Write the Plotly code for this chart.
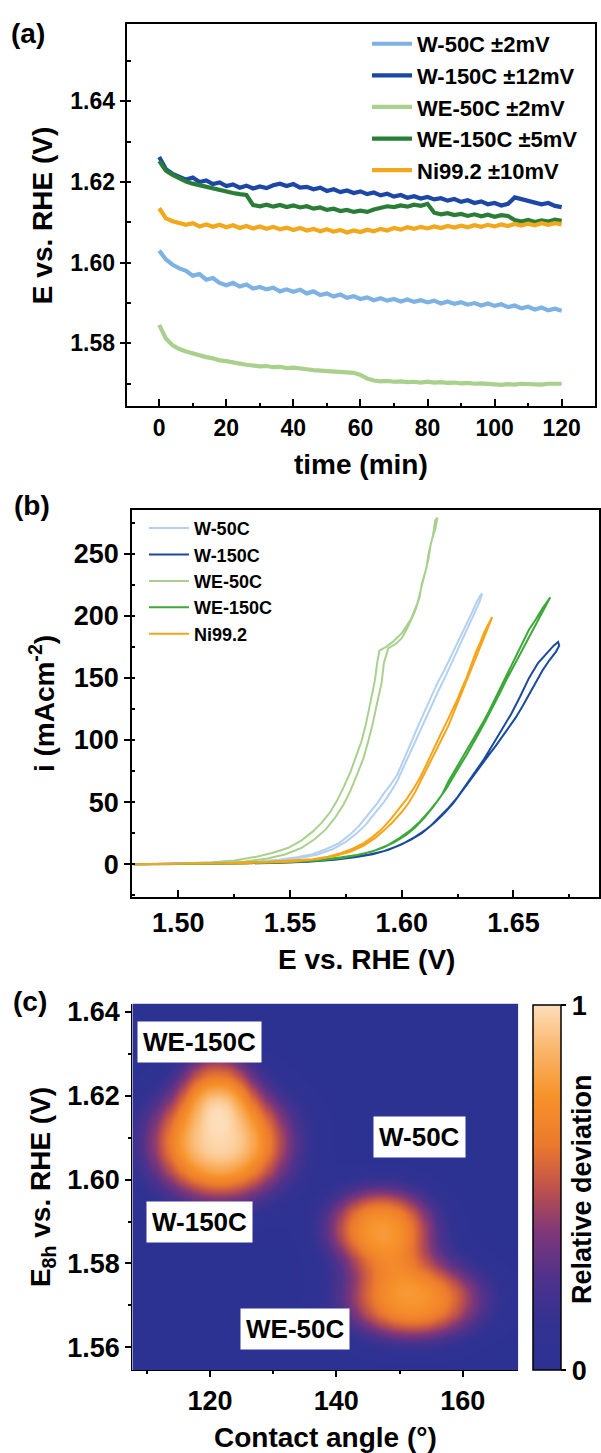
import numpy as np
import plotly.graph_objects as go

W, H = 601, 1453
FONT = "Liberation Sans"

# ---------------- (a) chronopotentiometry ----------------
names = ["W-50C", "W-150C", "WE-50C", "WE-150C", "Ni99.2"]
stability = ["±2mV", "±12mV", "±2mV", "±5mV", "±10mV"]
time_min = list(range(0, 121, 2))

e_w50 = [1.6030, 1.6008, 1.5995, 1.5986, 1.5980, 1.5968, 1.5972, 1.5958, 1.5962, 1.5950,
         1.5944, 1.5950, 1.5941, 1.5946, 1.5936, 1.5940, 1.5934, 1.5938, 1.5929, 1.5934,
         1.5928, 1.5933, 1.5924, 1.5929, 1.5920, 1.5924, 1.5916, 1.5921, 1.5913, 1.5917,
         1.5910, 1.5914, 1.5907, 1.5912, 1.5906, 1.5910, 1.5904, 1.5909, 1.5903, 1.5907,
         1.5902, 1.5906, 1.5899, 1.5904, 1.5898, 1.5902, 1.5896, 1.5900, 1.5894, 1.5899,
         1.5893, 1.5897, 1.5890, 1.5894, 1.5887, 1.5891, 1.5884, 1.5889, 1.5882, 1.5886,
         1.5881]
e_w150 = [1.6262, 1.6232, 1.6220, 1.6213, 1.6206, 1.6211, 1.6200, 1.6204, 1.6195, 1.6199,
          1.6190, 1.6194, 1.6186, 1.6191, 1.6184, 1.6189, 1.6185, 1.6192, 1.6196, 1.6190,
          1.6195, 1.6186, 1.6188, 1.6182, 1.6186, 1.6178, 1.6182, 1.6175, 1.6179, 1.6173,
          1.6177, 1.6170, 1.6174, 1.6167, 1.6171, 1.6164, 1.6168, 1.6161, 1.6165, 1.6159,
          1.6163, 1.6157, 1.6160, 1.6154, 1.6158, 1.6151, 1.6155, 1.6148, 1.6152, 1.6145,
          1.6148, 1.6142, 1.6146, 1.6162, 1.6158, 1.6153, 1.6149, 1.6145, 1.6148, 1.6141,
          1.6138]
e_we50 = [1.5846, 1.5812, 1.5795, 1.5786, 1.5780, 1.5775, 1.5771, 1.5766, 1.5763, 1.5758,
          1.5756, 1.5752, 1.5750, 1.5747, 1.5745, 1.5743, 1.5744, 1.5741, 1.5742, 1.5739,
          1.5740, 1.5737, 1.5736, 1.5734, 1.5733, 1.5731, 1.5730, 1.5729, 1.5728, 1.5727,
          1.5722, 1.5713, 1.5708, 1.5706, 1.5707, 1.5705, 1.5706, 1.5704, 1.5705, 1.5703,
          1.5705, 1.5703, 1.5704, 1.5702, 1.5703, 1.5701, 1.5702, 1.5700, 1.5701, 1.5699,
          1.5698, 1.5697, 1.5699, 1.5698, 1.5700, 1.5699, 1.5700, 1.5698, 1.5700, 1.5699,
          1.5700]
e_we150 = [1.6252, 1.6228, 1.6218, 1.6208, 1.6201, 1.6196, 1.6192, 1.6187, 1.6183, 1.6180,
           1.6176, 1.6173, 1.6170, 1.6168, 1.6143, 1.6140, 1.6144, 1.6139, 1.6143, 1.6138,
           1.6142, 1.6137, 1.6140, 1.6134, 1.6137, 1.6131, 1.6134, 1.6128, 1.6131, 1.6126,
           1.6129, 1.6126, 1.6132, 1.6136, 1.6140, 1.6138, 1.6142, 1.6139, 1.6144, 1.6141,
           1.6146, 1.6124, 1.6120, 1.6123, 1.6118, 1.6121, 1.6116, 1.6120, 1.6115, 1.6119,
           1.6114, 1.6118, 1.6116, 1.6106, 1.6102, 1.6106, 1.6101, 1.6105, 1.6102, 1.6107,
           1.6104]
e_ni = [1.6135, 1.6110, 1.6103, 1.6098, 1.6094, 1.6098, 1.6090, 1.6095, 1.6089, 1.6094,
        1.6088, 1.6093, 1.6086, 1.6091, 1.6085, 1.6090, 1.6084, 1.6089, 1.6083, 1.6087,
        1.6081, 1.6086, 1.6080, 1.6084, 1.6078, 1.6083, 1.6077, 1.6081, 1.6075, 1.6080,
        1.6076, 1.6082, 1.6078, 1.6084, 1.6080, 1.6086, 1.6082, 1.6088, 1.6084, 1.6089,
        1.6085, 1.6090, 1.6086, 1.6091, 1.6087, 1.6092, 1.6088, 1.6093, 1.6089, 1.6094,
        1.6090, 1.6095, 1.6091, 1.6096, 1.6092, 1.6097, 1.6093, 1.6098, 1.6094, 1.6098,
        1.6095]
potentials_a = [e_w50, e_w150, e_we50, e_we150, e_ni]
colors_a = ["#7DB2E2", "#1C47A6", "#A9D08C", "#2A7D36", "#F2A81C"]

# ---------------- (b) polarisation loops (forward + reverse scan) ----------------
we50_E = [1.480, 1.500, 1.515, 1.525, 1.535, 1.542, 1.549, 1.555, 1.560, 1.564, 1.568, 1.571,
          1.574, 1.577, 1.580, 1.582, 1.584, 1.586, 1.588, 1.589, 1.590, 1.593, 1.596, 1.600,
          1.604, 1.607, 1.609, 1.610, 1.612, 1.613, 1.615, 1.616,
          1.615, 1.614, 1.612, 1.611, 1.609, 1.608, 1.606, 1.603, 1.600, 1.597, 1.594, 1.592,
          1.591, 1.589, 1.587, 1.585, 1.583, 1.580, 1.577, 1.574, 1.570, 1.566, 1.561, 1.555,
          1.548, 1.540, 1.530, 1.515, 1.500, 1.480]
we50_i = [0, 0.5, 1.5, 3, 6, 9, 13, 19, 26, 33, 42, 51, 62, 74, 89, 99, 113, 130, 148, 162,
          172, 175, 179, 186, 197, 210, 224, 230, 246, 258, 270, 279,
          277, 265, 250, 238, 226, 215, 204, 192, 182, 177, 174, 162, 146, 130, 113, 99, 86,
          72, 59, 48, 37, 28, 20, 13, 8, 4.5, 2.2, 0.8, 0.2, 0]

w50_E = [1.480, 1.500, 1.520, 1.535, 1.545, 1.553, 1.560, 1.566, 1.572, 1.577, 1.581, 1.585,
         1.589, 1.592, 1.595, 1.598, 1.601, 1.604, 1.607, 1.610, 1.613, 1.616, 1.619, 1.622,
         1.625, 1.628, 1.631, 1.633, 1.635, 1.636,
         1.635, 1.633, 1.631, 1.628, 1.625, 1.622, 1.619, 1.616, 1.613, 1.610, 1.607, 1.604,
         1.601, 1.598, 1.595, 1.592, 1.588, 1.584, 1.580, 1.575, 1.569, 1.562, 1.553, 1.542,
         1.525, 1.505, 1.480]
w50_i = [0, 0.4, 1.2, 2.2, 3.5, 5.5, 8, 12, 17, 24, 31, 40, 49, 57, 64, 72, 84, 97, 110, 122,
         134, 146, 156, 167, 178, 189, 201, 209, 216, 218,
         212, 204, 196, 184, 172, 160, 149, 138, 126, 114, 102, 90, 78, 67, 58, 50, 41, 32,
         25, 18, 12, 7.5, 4.5, 2.3, 1, 0.3, 0]

ni_E = [1.480, 1.500, 1.520, 1.540, 1.552, 1.560, 1.567, 1.573, 1.578, 1.583, 1.587, 1.591,
        1.595, 1.599, 1.602, 1.605, 1.608, 1.611, 1.614, 1.617, 1.620, 1.623, 1.625, 1.627,
        1.629, 1.631, 1.633, 1.635, 1.637, 1.639, 1.6405,
        1.639, 1.637, 1.635, 1.633, 1.631, 1.629, 1.627, 1.625, 1.623, 1.621, 1.618, 1.615,
        1.612, 1.609, 1.606, 1.603, 1.600, 1.596, 1.592, 1.588, 1.583, 1.577, 1.570, 1.562,
        1.550, 1.530, 1.505, 1.480]
ni_i = [0, 0.3, 0.8, 2, 3, 4, 6, 9, 12.5, 17, 22, 28, 36, 45, 52, 60, 69, 80, 92, 103, 114,
        125, 133, 142, 150, 160, 170, 178, 187, 194, 199,
        192, 183, 174, 166, 157, 147, 139, 130, 121, 112, 101, 90, 79, 68, 58, 49, 42, 34,
        27, 21, 15, 10, 6.5, 4, 2, 0.8, 0.2, 0]

we150_E = [1.480, 1.500, 1.520, 1.540, 1.555, 1.565, 1.573, 1.580, 1.586, 1.592, 1.597, 1.602,
           1.606, 1.610, 1.614, 1.618, 1.621, 1.624, 1.627, 1.630, 1.633, 1.636, 1.639, 1.642,
           1.645, 1.648, 1.651, 1.654, 1.657, 1.660, 1.663, 1.6665,
           1.665, 1.662, 1.659, 1.656, 1.653, 1.650, 1.647, 1.644, 1.641, 1.638, 1.635, 1.632,
           1.629, 1.626, 1.623, 1.620, 1.616, 1.612, 1.608, 1.604, 1.599, 1.594, 1.588, 1.581,
           1.573, 1.563, 1.550, 1.530, 1.505, 1.480]
we150_i = [0, 0.2, 0.6, 1.5, 2.6, 3.8, 5.5, 7.3, 9.8, 13.5, 18, 23.5, 29.5, 37, 46, 56, 67, 76,
           85, 94, 103, 113, 123, 134, 146, 157, 168, 179, 189, 197, 206, 215,
           210, 200, 190, 180, 170, 160, 149, 138, 127, 117, 107, 97, 88, 79, 70, 61, 51, 42,
           34, 27.5, 21, 15.5, 11, 7.5, 5, 3, 1.6, 0.6, 0.15, 0]

w150_E = [1.480, 1.500, 1.520, 1.540, 1.555, 1.567, 1.577, 1.585, 1.592, 1.598, 1.604, 1.609,
          1.613, 1.617, 1.621, 1.625, 1.629, 1.633, 1.637, 1.641, 1.645, 1.649, 1.653, 1.657,
          1.661, 1.665, 1.668, 1.670,
          1.6705, 1.669, 1.666, 1.663, 1.660, 1.657, 1.654, 1.651, 1.648, 1.645, 1.642, 1.639,
          1.635, 1.631, 1.627, 1.623, 1.619, 1.615, 1.611, 1.606, 1.600, 1.594, 1.587, 1.579,
          1.570, 1.558, 1.542, 1.520, 1.500, 1.480]
w150_i = [0, 0.2, 0.5, 1.2, 2.3, 3.8, 5.7, 7.6, 10.5, 14.5, 19.5, 25, 31, 38, 45.5, 54, 64,
          74, 85, 97, 109, 121, 135, 150, 162, 170, 176, 179,
          176, 171, 164, 156, 146, 137, 127, 118, 110, 102, 95, 88, 78, 68, 58, 49, 41, 34,
          28, 22, 16, 11.5, 8, 5.5, 3.5, 2, 1, 0.4, 0.1, 0]

loops_E = [w50_E, w150_E, we50_E, we150_E, ni_E]
loops_i = [w50_i, w150_i, we50_i, we150_i, ni_i]
colors_b = ["#B3D0EE", "#1A4A9C", "#A9D08C", "#3DA93A", "#F4A51B"]

# ---------------- (c) deviation map vs contact angle ----------------
map_samples = ["W-150C", "WE-150C", "W-50C", "WE-50C"]
contact_angle = [121.5, 121.0, 147.0, 152.0]
contact_angle_sd = [9.5, 5.0, 7.5, 9.5]
e8h = [1.6090, 1.6235, 1.5885, 1.5715]
e8h_sd = [0.0120, 0.0075, 0.0085, 0.0085]
peak_deviation = [0.97, 0.38, 0.76, 0.76]

label_names = ["WE-150C", "W-50C", "W-150C", "WE-50C"]
label_angle = [118.4, 153.2, 118.4, 133.4]
label_e = [1.6329, 1.6102, 1.5898, 1.5643]

deviation_scale = [
    [0.00, "rgb(44,50,146)"],
    [0.12, "rgb(50,50,146)"],
    [0.25, "rgb(78,50,140)"],
    [0.38, "rgb(128,55,120)"],
    [0.50, "rgb(192,82,74)"],
    [0.62, "rgb(236,122,45)"],
    [0.75, "rgb(247,146,42)"],
    [0.88, "rgb(250,182,108)"],
    [1.00, "rgb(253,222,186)"],
]


def px(x):
    return x / W


def py(y):
    return 1 - y / H


fig = go.Figure()

for k, name in enumerate(names):
    fig.add_trace(go.Scatter(
        x=time_min, y=potentials_a[k], mode="lines",
        name=f"{name} {stability[k]}",
        line=dict(color=colors_a[k], width=4.2),
        xaxis="x", yaxis="y", legend="legend"))

for k, name in enumerate(names):
    fig.add_trace(go.Scatter(
        x=loops_E[k], y=loops_i[k], mode="lines", name=name,
        line=dict(color=colors_b[k], width=2),
        xaxis="x2", yaxis="y2", legend="legend2"))

# relative-deviation surface: each sample spread by its own uncertainty
ang_lo, ang_hi = 107.7, 168.8
e_lo, e_hi = 1.5545, 1.642
ang_axis = np.linspace(ang_lo, ang_hi, 360)
e_axis = np.linspace(e_lo, e_hi, 360)
AA, EE = np.meshgrid(ang_axis, e_axis)
surface = np.zeros_like(AA)
for a0, sa, e0, se, pk in zip(contact_angle, contact_angle_sd, e8h, e8h_sd, peak_deviation):
    d2 = ((AA - a0) / sa) ** 2 + ((EE - e0) / se) ** 2
    surface += pk * np.exp(-np.log(2) * d2 ** 1.25)
surface = np.clip(surface, 0, 1)

fig.add_trace(go.Heatmap(
    x=ang_axis, y=e_axis, z=surface, zmin=0, zmax=1,
    colorscale=deviation_scale, zsmooth="best", showscale=True,
    xaxis="x3", yaxis="y3", hoverinfo="skip",
    colorbar=dict(
        x=px(533), xanchor="left", y=py(1370), yanchor="bottom",
        len=(1370 - 1003) / H, lenmode="fraction",
        thickness=28, thicknessmode="pixels", xpad=0, ypad=0,
        outlinewidth=1.5, outlinecolor="black",
        tickvals=[0, 1], ticktext=["0", "1"], ticks="outside", ticklen=5,
        tickwidth=1.5, tickcolor="black",
        tickfont=dict(family=FONT, size=27, color="black", weight="bold"),
    ),
))

tick_font = lambda s: dict(family=FONT, size=s, color="black", weight="bold")
common = dict(showgrid=False, zeroline=False, showline=True, linecolor="black",
              linewidth=2, tickcolor="black", tickwidth=2)

layout = dict(
    width=W, height=H, margin=dict(l=0, r=0, t=0, b=0),
    paper_bgcolor="white", plot_bgcolor="white", showlegend=True,
    xaxis=dict(common, domain=[px(126.7), px(595.2)], range=[-9.7, 130], anchor="y",
               tickvals=[0, 20, 40, 60, 80, 100, 120], ticks="inside", ticklen=7,
               mirror=True, tickfont=tick_font(23),
               minor=dict(dtick=10, tick0=0, ticks="inside", ticklen=3, tickwidth=1.5,
                          tickcolor="black")),
    yaxis=dict(common, domain=[py(402), py(18)], range=[1.5644, 1.6592], anchor="x",
               tickvals=[1.58, 1.60, 1.62, 1.64], tickformat=".2f", ticks="outside",
               ticklen=5, mirror=True, tickfont=tick_font(23),
               minor=dict(dtick=0.01, tick0=1.56, ticks="inside", ticklen=4, tickwidth=1.5,
                          tickcolor="black")),
    xaxis2=dict(common, domain=[px(132.3), px(599)], range=[1.4794, 1.6883], anchor="y2",
                tickvals=[1.50, 1.55, 1.60, 1.65], tickformat=".2f", ticks="inside",
                ticklen=7, mirror=True, tickfont=tick_font(27),
                minor=dict(dtick=0.025, tick0=1.5, ticks="inside", ticklen=3,
                           tickwidth=1.5, tickcolor="black")),
    yaxis2=dict(common, domain=[py(895), py(506)], range=[-26.7, 285.3], anchor="x2",
                tickvals=[0, 50, 100, 150, 200, 250], ticks="outside", ticklen=6,
                mirror=True, tickfont=tick_font(27),
                minor=dict(dtick=25, tick0=0, ticks="inside", ticklen=3, tickwidth=1.5,
                           tickcolor="black")),
    xaxis3=dict(common, domain=[px(132.3), px(518.3)], range=[ang_lo, ang_hi], anchor="y3",
                linewidth=1, tickvals=[120, 140, 160], ticks="outside", ticklen=6,
                tickfont=tick_font(27),
                minor=dict(dtick=10, tick0=110, ticks="outside", ticklen=3, tickwidth=1.5,
                           tickcolor="black")),
    yaxis3=dict(common, domain=[py(1370), py(1001.7)], range=[e_lo, e_hi], anchor="x3",
                linewidth=1, tickvals=[1.56, 1.58, 1.60, 1.62, 1.64], tickformat=".2f",
                ticks="outside", ticklen=6, tickfont=tick_font(27),
                minor=dict(dtick=0.01, tick0=1.56, ticks="outside", ticklen=3,
                           tickwidth=1.5, tickcolor="black")),
    legend=dict(x=px(367), y=py(17), xanchor="left", yanchor="top",
                bgcolor="rgba(0,0,0,0)", font=dict(family=FONT, size=22, color="black",
                                                   weight="bold"),
                itemwidth=40, tracegroupgap=0),
    legend2=dict(x=px(144), y=py(506), xanchor="left", yanchor="top",
                 bgcolor="rgba(0,0,0,0)", font=dict(family=FONT, size=18, color="black",
                                                    weight="bold"),
                 itemwidth=40, tracegroupgap=0),
)
fig.update_layout(**layout)

title_font = dict(family=FONT, size=28, color="black", weight="bold")
annotations = [
    dict(text="(a)", x=px(28), y=py(28)),
    dict(text="(b)", x=px(32), y=py(502)),
    dict(text="(c)", x=px(30), y=py(1000)),
    dict(text="E vs. RHE (V)", x=px(42), y=py(210), textangle=-90),
    dict(text="time (min)", x=px(361), y=py(460)),
    dict(text="i (mAcm<sup>-2</sup>)", x=px(42), y=py(700), textangle=-90),
    dict(text="E vs. RHE (V)", x=px(366), y=py(957)),
    dict(text="E<sub>8h</sub> vs. RHE (V)", x=px(42), y=py(1186), textangle=-90),
    dict(text="Contact angle (°)", x=px(325), y=py(1437)),
    dict(text="Relative deviation", x=px(582), y=py(1188), textangle=-90,
         font=dict(family=FONT, size=27, color="black", weight="bold")),
]
for a in annotations:
    a.setdefault("font", title_font)
    fig.add_annotation(xref="paper", yref="paper", showarrow=False,
                       xanchor="center", yanchor="middle", **a)

for name, a, e in zip(label_names, label_angle, label_e):
    fig.add_annotation(xref="x3", yref="y3", x=a, y=e, text=name, showarrow=False,
                       bgcolor="white", borderpad=5,
                       font=dict(family=FONT, size=26, color="black", weight="bold"))

fig.write_html("out.html")
